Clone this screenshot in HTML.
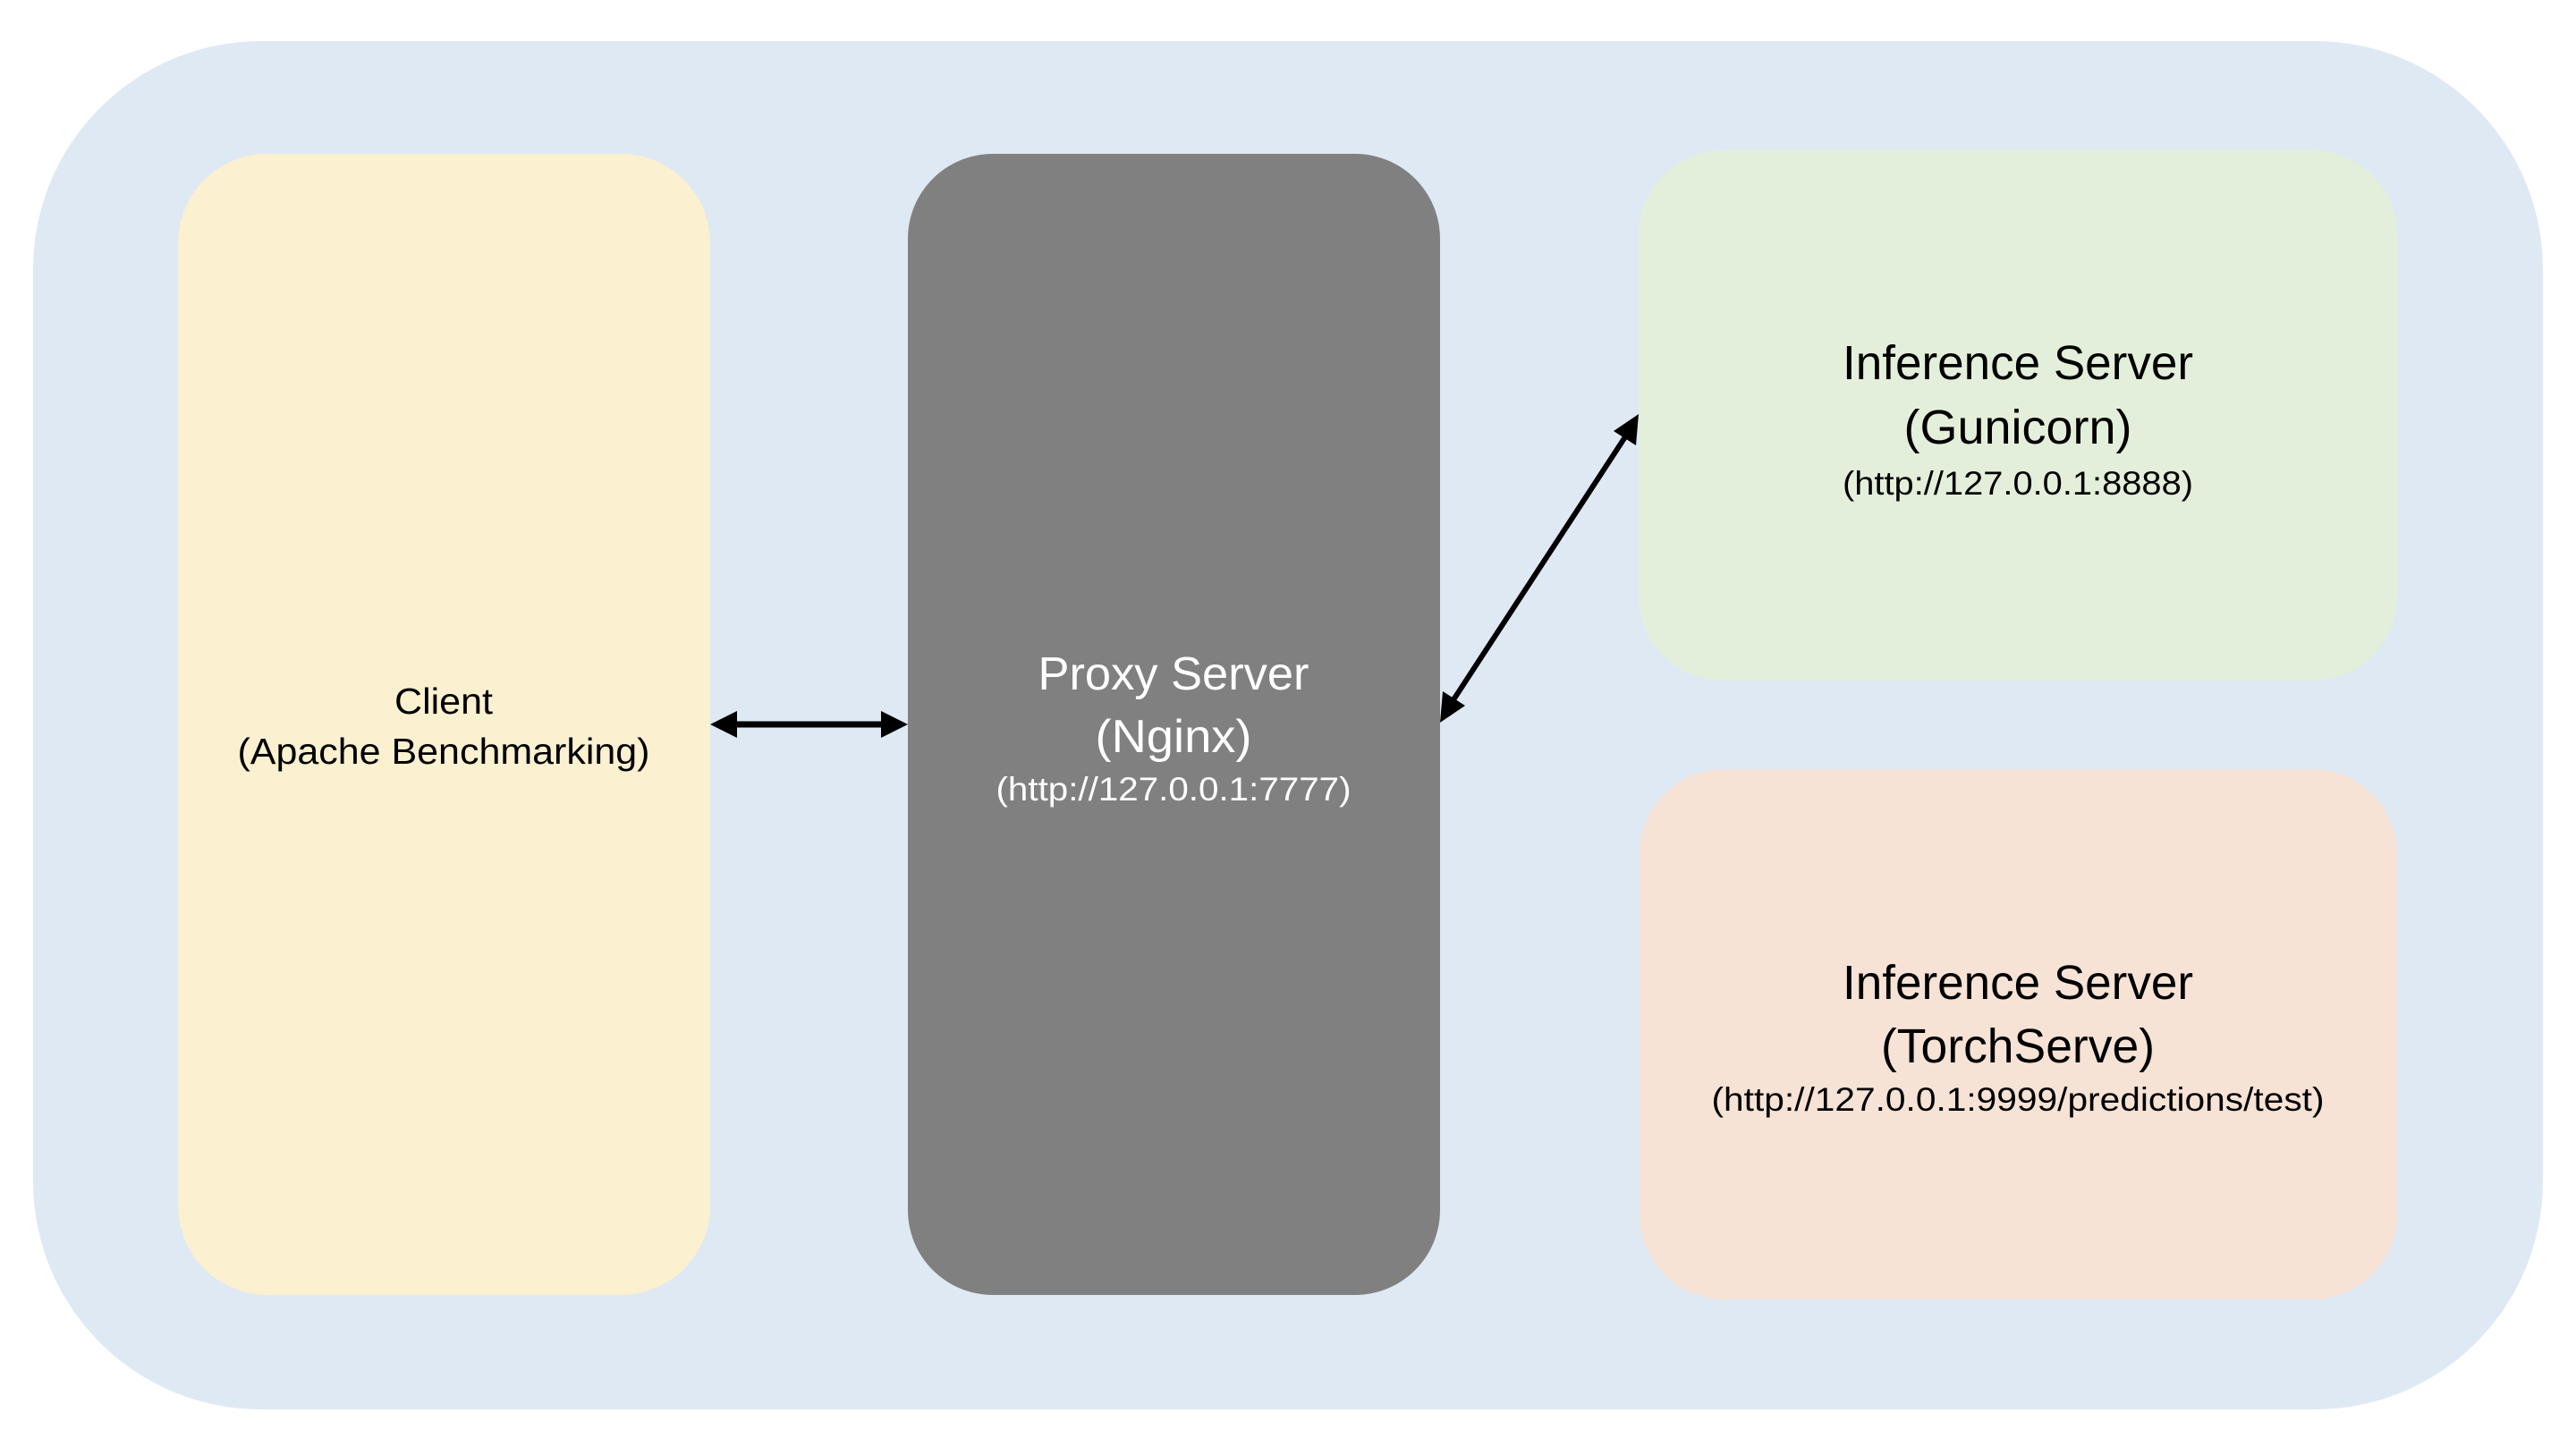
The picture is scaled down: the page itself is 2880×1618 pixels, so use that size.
<!DOCTYPE html>
<html><head><meta charset="utf-8"><style>html,body{margin:0;padding:0;background:#fff}svg{display:block}</style></head>
<body>
<svg width="2880" height="1618" viewBox="0 0 2880 1618" xmlns="http://www.w3.org/2000/svg">
<rect x="37" y="46" width="2806" height="1530" rx="255" ry="255" fill="#dfe9f4"/>
<rect x="199" y="172" width="595" height="1276" rx="100" ry="100" fill="#fbf0d0"/>
<rect x="1015" y="172" width="595" height="1276" rx="95" ry="95" fill="#808080"/>
<rect x="1832" y="168" width="848" height="593" rx="95" ry="95" fill="#e3efda"/>
<rect x="1833" y="860" width="847" height="593" rx="95" ry="95" fill="#f6e3d6"/>
<g fill="#000">
<line x1="820" y1="810" x2="990" y2="810" stroke="#000" stroke-width="7"/>
<polygon points="794,810 824,795 824,825"/>
<polygon points="1015,810 985,795 985,825"/>
<line x1="1624" y1="784" x2="1818" y2="487" stroke="#000" stroke-width="6"/>
<polygon points="1610,808 1613,773 1638,789"/>
<polygon points="1832,463 1829,498 1804,482"/>
</g>
<g font-family="Liberation Sans, sans-serif" text-anchor="middle">
<text x="496" y="798" font-size="41" textLength="110" lengthAdjust="spacingAndGlyphs">Client</text>
<text x="496" y="854" font-size="41" textLength="461" lengthAdjust="spacingAndGlyphs">(Apache Benchmarking)</text>
<g fill="#fff">
<text x="1312" y="771" font-size="52" textLength="303" lengthAdjust="spacingAndGlyphs">Proxy Server</text>
<text x="1312" y="841" font-size="52" textLength="175" lengthAdjust="spacingAndGlyphs">(Nginx)</text>
<text x="1312" y="895" font-size="37" textLength="397" lengthAdjust="spacingAndGlyphs">(http://127.0.0.1:7777)</text>
</g>
<text x="2256" y="424" font-size="54" textLength="392" lengthAdjust="spacingAndGlyphs">Inference Server</text>
<text x="2256" y="496" font-size="54" textLength="255" lengthAdjust="spacingAndGlyphs">(Gunicorn)</text>
<text x="2256" y="553" font-size="37" textLength="392" lengthAdjust="spacingAndGlyphs">(http://127.0.0.1:8888)</text>
<text x="2256" y="1117" font-size="54" textLength="392" lengthAdjust="spacingAndGlyphs">Inference Server</text>
<text x="2256" y="1188" font-size="54" textLength="306" lengthAdjust="spacingAndGlyphs">(TorchServe)</text>
<text x="2256" y="1242" font-size="37" textLength="685" lengthAdjust="spacingAndGlyphs">(http://127.0.0.1:9999/predictions/test)</text>
</g>
</svg>
</body></html>
